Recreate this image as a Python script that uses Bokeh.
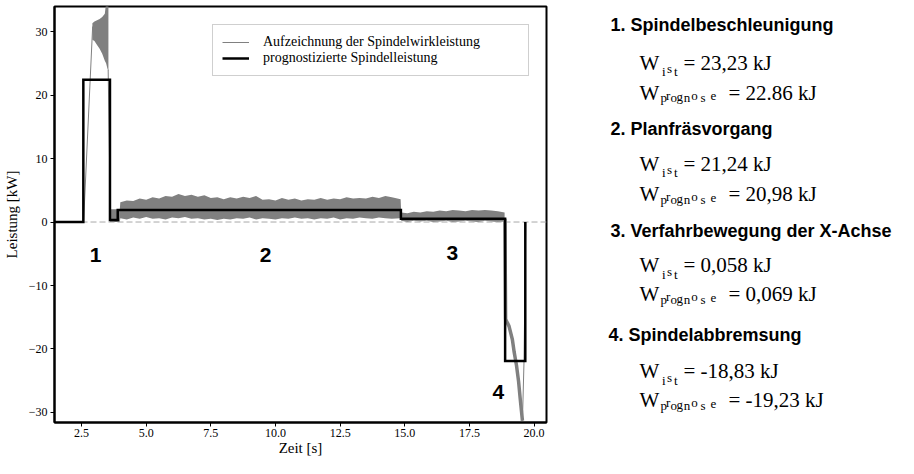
from bokeh.plotting import figure
from bokeh.models import Range1d, Legend, LegendItem, FixedTicker
from bokeh.layouts import row
from bokeh.embed import file_html
from bokeh.resources import INLINE
from bokeh.core.properties import value

SERIF = "Liberation Serif"
SANS = "Liberation Sans"
GRAY = "#808080"

# ---------------- data ----------------
x_ticks = [2.5, 5.0, 7.5, 10.0, 12.5, 15.0, 17.5, 20.0]
x_tick_labels = ["2.5", "5.0", "7.5", "10.0", "12.5", "15.0", "17.5", "20.0"]
y_ticks = [-30, -20, -10, 0, 10, 20, 30]
y_tick_labels = ["\u221230", "\u221220", "\u221210", "0", "10", "20", "30"]

# predicted spindle power (step profile)
pred_t = [1.0, 2.57, 2.57, 3.60, 3.60, 3.90, 3.90, 14.85, 14.85, 18.88, 18.88, 19.66, 19.66]
pred_p = [0.0, 0.0, 22.4, 22.4, 0.3, 0.3, 1.9, 1.9, 0.5, 0.5, -21.9, -21.9, 0.0]

# recorded power: ramp-up
meas_up_t = [1.0, 2.58, 2.93]
meas_up_p = [0.0, 0.0, 30.8]
# acceleration peak band
spike_t = [2.92, 3.0, 3.1, 3.2, 3.3, 3.4, 3.45, 3.5, 3.54]
spike_hi = [31.3, 31.6, 31.8, 32.0, 32.3, 32.8, 34.5, 36.0, 35.0]
spike_lo = [28.7, 28.5, 27.9, 27.3, 26.5, 25.4, 25.0, 24.2, 23.8]
meas_down_t = [3.53, 3.62]
meas_down_p = [24.0, 0.0]

# noisy band after acceleration
seg_a_t = [3.62, 3.98]
seg_a_hi = [2.0, 2.0]
seg_a_lo = [0.0, 0.0]
# face milling
seg_b_t = [4.0, 4.25, 4.5, 4.75, 5.0, 5.25, 5.5, 5.75, 6.0, 6.25, 6.5, 6.75, 7.0, 7.25, 7.5,
           7.75, 8.0, 8.25, 8.5, 8.75, 9.0, 9.25, 9.5, 9.75, 10.0, 10.25, 10.5, 10.75, 11.0,
           11.25, 11.5, 11.75, 12.0, 12.25, 12.5, 12.75, 13.0, 13.25, 13.5, 13.75, 14.0, 14.25,
           14.5, 14.84]
seg_b_hi = [3.1, 3.4, 3.3, 3.7, 3.5, 3.9, 3.7, 4.1, 4.0, 4.4, 4.1, 4.3, 4.0, 4.2, 3.8,
            3.9, 3.6, 3.9, 3.7, 4.0, 3.8, 4.1, 3.5, 3.6, 3.4, 3.8, 3.5, 3.7, 3.4,
            3.6, 3.5, 3.8, 3.5, 3.7, 3.6, 3.9, 3.7, 3.8, 3.7, 4.0, 3.8, 4.1,
            3.9, 3.6]
seg_b_lo = [0.6, 0.4, 0.7, 0.5, 0.8, 0.5, 0.6, 0.4, 0.7, 0.6, 0.8, 0.5, 0.6, 0.4, 0.5,
            0.3, 0.5, 0.4, 0.6, 0.5, 0.7, 0.4, 0.6, 0.5, 0.4, 0.6, 0.5, 0.7, 0.5,
            0.6, 0.4, 0.6, 0.5, 0.7, 0.4, 0.6, 0.5, 0.7, 0.6, 0.5, 0.7, 0.6,
            0.5, 0.6]
# X-axis traverse
seg_c_t = [14.86, 15.1, 15.35, 15.6, 15.85, 16.1, 16.35, 16.6, 16.85, 17.1, 17.35, 17.6,
           17.85, 18.1, 18.35, 18.6, 18.86]
seg_c_hi = [1.5, 1.4, 1.6, 1.5, 1.7, 1.6, 1.8, 1.7, 1.9, 1.8, 1.7, 1.9, 1.8, 1.9, 1.8, 1.7, 1.5]
seg_c_lo = [0.2, 0.0, 0.2, 0.1, 0.2, 0.0, 0.1, 0.2, 0.0, 0.1, 0.2, 0.1, 0.0, 0.2, 0.1, 0.0, 0.1]

# braking
brake_t = [18.87, 18.89, 18.90, 19.03, 19.16, 19.23, 19.32, 19.40, 19.46, 19.51, 19.55]
brake_p = [0.5, -10.0, -15.3, -16.4, -18.5, -20.5, -22.6, -25.1, -27.7, -29.7, -31.3]
brake_ret_t = [19.55, 19.61, 19.68]
brake_ret_p = [-31.3, -22.0, 0.0]

phase_labels = ["1", "2", "3", "4"]
phase_t = [3.04, 9.62, 16.84, 18.62]
phase_p = [-5.2, -5.2, -4.9, -26.7]

headings = ["1. Spindelbeschleunigung", "2. Planfräsvorgang",
            "3. Verfahrbewegung der X-Achse", "4. Spindelabbremsung"]
ist_values = ["= 23,23 kJ", "= 21,24 kJ", "= 0,058 kJ", "= -18,83 kJ"]
prog_values = ["= 22.86 kJ", "= 20,98 kJ", "= 0,069 kJ", "= -19,23 kJ"]

# ---------------- chart ----------------
p = figure(width=548, height=458, x_range=Range1d(1.455, 20.48), y_range=Range1d(-31.58, 33.95),
           output_backend="svg", toolbar_location=None,
           min_border_left=54, min_border_right=2, min_border_top=6, min_border_bottom=34,
           x_axis_label="Zeit [s]", y_axis_label="Leistung [kW]")
p.xgrid.visible = False
p.ygrid.visible = False
p.outline_line_color = "black"
p.outline_line_width = 2
p.outline_line_alpha = 1

for ax in (p.xaxis[0], p.yaxis[0]):
    ax.axis_line_width = 2
    ax.axis_line_color = "black"
    ax.major_tick_in = 0
    ax.major_tick_out = 4
    ax.major_tick_line_color = "black"
    ax.minor_tick_in = 0
    ax.minor_tick_out = 0
    ax.major_label_text_font = SERIF
    ax.major_label_text_font_size = "12px"
    ax.major_label_text_color = "black"
    ax.axis_label_text_font = SERIF
    ax.axis_label_text_font_size = "15px"
    ax.axis_label_text_font_style = "normal"
    ax.axis_label_text_color = "black"
p.xaxis.major_label_standoff = 2
p.xaxis.axis_label_standoff = 0
p.yaxis.major_label_standoff = 3
p.yaxis.axis_label_standoff = 6

p.xaxis.ticker = FixedTicker(ticks=x_ticks)
p.xaxis.major_label_overrides = dict(zip(x_ticks, x_tick_labels))
p.yaxis.ticker = FixedTicker(ticks=y_ticks)
p.yaxis.major_label_overrides = dict(zip(y_ticks, y_tick_labels))

band_t = seg_a_t + seg_b_t + seg_c_t
band_hi = seg_a_hi + seg_b_hi + seg_c_hi
band_lo = seg_a_lo + seg_b_lo + seg_c_lo

p.varea(x=spike_t, y1=spike_lo, y2=spike_hi, fill_color=GRAY)
p.varea(x=band_t, y1=band_lo, y2=band_hi, fill_color=GRAY)
r_meas = p.line(meas_up_t, meas_up_p, line_color=GRAY, line_width=1)
p.line(meas_down_t, meas_down_p, line_color=GRAY, line_width=1)
p.line(brake_t, brake_p, line_color=GRAY, line_width=3.5)
p.line(brake_ret_t, brake_ret_p, line_color=GRAY, line_width=1)

# dashed zero line
p.line([p.x_range.start, p.x_range.end], [0, 0], line_color="#a8a8a8", line_width=1,
       line_dash="6 3")

r_pred = p.line(pred_t, pred_p, line_color="black", line_width=2.5, line_join="miter")

p.text(x=phase_t, y=phase_p, text=phase_labels, text_font=value(SANS), text_font_style="bold",
       text_font_size="21px", text_align="center", text_baseline="middle", text_color="black")

legend = Legend(items=[LegendItem(label="Aufzeichnung der Spindelwirkleistung", renderers=[r_meas]),
                       LegendItem(label="prognostizierte Spindelleistung", renderers=[r_pred])],
                location=(158, 346), orientation="vertical")
legend.label_text_font = SERIF
legend.label_text_font_size = "14px"
legend.label_text_color = "black"
legend.glyph_width = 27
legend.glyph_height = 16
legend.label_height = 16
legend.label_width = 256
legend.label_standoff = 14
legend.padding = 9
legend.spacing = 0
legend.margin = 0
legend.border_line_color = "#a0a0a0"
legend.border_line_width = 1
legend.background_fill_color = "white"
legend.background_fill_alpha = 1
p.add_layout(legend)

# ---------------- text panel ----------------
q = figure(width=350, height=458, x_range=Range1d(548, 898), y_range=Range1d(458, 0),
           x_axis_type=None, y_axis_type=None, output_backend="svg", toolbar_location=None,
           min_border=0, outline_line_color=None)
q.grid.visible = False

head_x = [610, 610, 610, 608]
head_y = [20, 135, 246.7, 361.7]
ist_y = [61.7, 173.3, 285, 401.7]
prog_y = [95, 206.7, 316.7, 433.3]

q.text(x=head_x, y=head_y, text=headings, text_font=value(SANS), text_font_style="bold",
       text_font_size="18px", text_baseline="middle", text_align="left", text_color="black")
q.text(x=[639] * 8, y=ist_y + prog_y, text=["W"] * 8, text_font=value(SERIF),
       text_font_size="21px", text_baseline="alphabetic", text_color="black")
q.text(x=[683] * 4, y=ist_y, text=ist_values, text_font=value(SERIF),
       text_font_size="21px", text_baseline="alphabetic", text_color="black")
q.text(x=[728] * 4, y=prog_y, text=prog_values, text_font=value(SERIF),
       text_font_size="21px", text_baseline="alphabetic", text_color="black")

ist_chars = ["i", "s", "t"]
ist_dx = [661.5, 666.5, 673.5]
ist_dy = [10, 6.5, 10]
prog_chars = ["p", "r", "o", "g", "n", "o", "s", "e"]
prog_dx = [660, 665.5, 670, 676, 683.3, 690.7, 700, 710]
prog_dy = [5.5, 2.5, 5.5, 4.5, 5.5, 2.5, 5.5, 4.0]

sx, sy, st = [], [], []
for yb in ist_y:
    for c, dx, dy in zip(ist_chars, ist_dx, ist_dy):
        sx.append(dx); sy.append(yb + dy); st.append(c)
for yb in prog_y:
    for c, dx, dy in zip(prog_chars, prog_dx, prog_dy):
        sx.append(dx); sy.append(yb + dy); st.append(c)
q.text(x=sx, y=sy, text=st, text_font=value(SERIF), text_font_size="13px",
       text_baseline="alphabetic", text_color="black")

layout = row(p, q)
open("out.html", "w").write(file_html(layout, INLINE))
